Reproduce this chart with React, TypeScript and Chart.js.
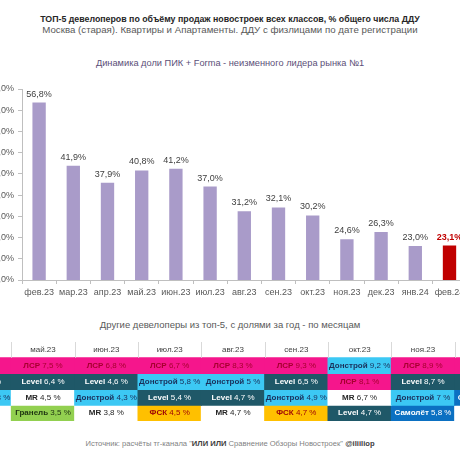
import React, { useEffect, useRef } from "react";
import { Chart, registerables } from "chart.js";

Chart.register(...registerables);

// ---------- Data: bar chart ----------
const months = ["фев.23", "мар.23", "апр.23", "май.23", "июн.23", "июл.23", "авг.23", "сен.23", "окт.23", "ноя.23", "дек.23", "янв.24", "фев.24"];
const pikShare = [56.8, 41.9, 37.9, 40.8, 41.2, 37.0, 31.2, 32.1, 30.2, 24.6, 26.3, 23.0, 23.1];
const yMin = 15;
const yMax = 60;
const yStep = 5;

// ---------- Data: table ----------
const tableMonths = ["апр.23", "май.23", "июн.23", "июл.23", "авг.23", "сен.23", "окт.23", "ноя.23", "дек.23"];
const row1Dev = ["ЛСР", "ЛСР", "ЛСР", "ЛСР", "ЛСР", "ЛСР", "Донстрой", "ЛСР", "ЛСР"];
const row1Val = ["7,9", "7,5", "6,8", "6,7", "8,3", "9,3", "9,2", "8,9", "8,4"];
const row2Dev = ["Level", "Level", "Level", "Донстрой", "Донстрой", "Level", "ЛСР", "Level", "Level"];
const row2Val = ["6,1", "6,4", "4,6", "5,8", "5", "6,5", "8,1", "8,7", "7,6"];
const row3Dev = ["Донстрой", "MR", "Донстрой", "Level", "Level", "Донстрой", "MR", "Донстрой", "Самолёт"];
const row3Val = ["4,8", "4,5", "4,3", "5,4", "4,7", "4,9", "6,7", "7", "6,2"];
const row4Dev = ["MR", "Гранель", "MR", "ФСК", "MR", "ФСК", "Level", "Самолёт", "MR"];
const row4Val = ["3,9", "3,5", "3,8", "4,5", "4,7", "4,7", "4,7", "5,8", "5,1"];

// ---------- Styles ----------
const FONT = "'Liberation Sans', Arial, sans-serif";
const BAR_COLOR = "#a99bc9";
const HIGHLIGHT = "#c00000";
const devStyle: Record<string, { bg: string; fg: string }> = {
  "ЛСР": { bg: "#f5168c", fg: "#a5002e" },
  "Level": { bg: "#1f5868", fg: "#ffffff" },
  "Донстрой": { bg: "#3cc8f4", fg: "#1a2f5a" },
  "MR": { bg: "#ffffff", fg: "#262626" },
  "Гранель": { bg: "#92d050", fg: "#1d3311" },
  "ФСК": { bg: "#ffc000", fg: "#9c0006" },
  "Самолёт": { bg: "#0b70c2", fg: "#ffffff" },
};

const fmt = (v: number) => v.toFixed(1).replace(".", ",") + "%";

function BarChart() {
  const ref = useRef<HTMLCanvasElement>(null);
  useEffect(() => {
    const valueLabels = {
      id: "valueLabels",
      afterDatasetsDraw(chart: any) {
        const ctx = chart.ctx;
        const meta = chart.getDatasetMeta(0);
        ctx.save();
        ctx.textAlign = "center";
        ctx.textBaseline = "bottom";
        meta.data.forEach((bar: any, i: number) => {
          const last = i === pikShare.length - 1;
          ctx.font = `${last ? "bold " : ""}9px ${FONT}`;
          ctx.fillStyle = last ? HIGHLIGHT : "#404040";
          ctx.fillText(fmt(pikShare[i]), bar.x, bar.y - 4);
        });
        ctx.restore();
      },
    };
    const chart = new Chart(ref.current!, {
      type: "bar",
      data: {
        labels: months,
        datasets: [
          {
            data: pikShare,
            backgroundColor: months.map((_, i) => (i === months.length - 1 ? HIGHLIGHT : BAR_COLOR)),
            barPercentage: 0.39,
            categoryPercentage: 1,
          },
        ],
      },
      options: {
        responsive: false,
        maintainAspectRatio: false,
        animation: false,
        layout: { padding: { top: 14, right: 3.4, left: 0, bottom: 0 } },
        plugins: { legend: { display: false }, tooltip: { enabled: false }, title: { display: false } },
        scales: {
          y: {
            min: yMin,
            max: yMax,
            ticks: {
              stepSize: yStep,
              callback: (v: any) => fmt(Number(v)),
              font: { size: 9, family: FONT },
              color: "#595959",
              padding: 4,
            },
            grid: { drawOnChartArea: false, drawTicks: true, tickLength: 4, color: "#bfbfbf" },
            border: { color: "#bfbfbf" },
            afterFit: (s: any) => {
              s.width = 42;
            },
          },
          x: {
            ticks: {
              font: { size: 9, family: FONT },
              color: "#595959",
              padding: 3,
              maxRotation: 0,
              autoSkip: false,
            },
            grid: { drawOnChartArea: false, drawTicks: true, tickLength: 4, offset: true, color: "#bfbfbf" },
            border: { color: "#bfbfbf" },
            afterFit: (s: any) => {
              s.height = 20;
            },
          },
        },
      },
      plugins: [valueLabels],
    } as any);
    return () => chart.destroy();
  }, []);
  return (
    <canvas
      ref={ref}
      width={490}
      height={225}
      style={{ position: "absolute", left: -20, top: 75, width: 490, height: 225 }}
    />
  );
}

function TableChart() {
  const ref = useRef<HTMLCanvasElement>(null);
  useEffect(() => {
    const rows = [
      { dev: row1Dev, val: row1Val },
      { dev: row2Dev, val: row2Val },
      { dev: row3Dev, val: row3Val },
      { dev: row4Dev, val: row4Val },
    ];
    const cellText = {
      id: "cellText",
      afterDatasetsDraw(chart: any) {
        const ctx = chart.ctx;
        ctx.save();
        ctx.textBaseline = "middle";
        // header
        const hMeta = chart.getDatasetMeta(0);
        ctx.strokeStyle = "#d9d9d9";
        ctx.lineWidth = 1;
        hMeta.data.forEach((cell: any, i: number) => {
          const cy = (cell.y + cell.base) / 2;
          ctx.font = `8px ${FONT}`;
          ctx.fillStyle = "#404040";
          ctx.textAlign = "center";
          ctx.fillText(tableMonths[i], cell.x, cy);
          if (i < hMeta.data.length - 1) {
            const nx = Math.round((cell.x + hMeta.data[i + 1].x) / 2) + 0.5;
            ctx.beginPath();
            ctx.moveTo(nx, Math.min(cell.y, cell.base));
            ctx.lineTo(nx, Math.max(cell.y, cell.base));
            ctx.stroke();
          }
        });
        // body
        ctx.textAlign = "left";
        rows.forEach((r, ri) => {
          const meta = chart.getDatasetMeta(ri + 1);
          meta.data.forEach((cell: any, i: number) => {
            const cy = (cell.y + cell.base) / 2;
            const name = r.dev[i];
            const val = " " + r.val[i] + " %";
            ctx.font = `bold 8px ${FONT}`;
            const w1 = ctx.measureText(name).width;
            ctx.font = `8px ${FONT}`;
            const w2 = ctx.measureText(val).width;
            const x0 = cell.x - (w1 + w2) / 2;
            ctx.fillStyle = devStyle[name].fg;
            ctx.font = `bold 8px ${FONT}`;
            ctx.fillText(name, x0, cy);
            ctx.font = `8px ${FONT}`;
            ctx.fillText(val, x0 + w1, cy);
          });
        });
        ctx.restore();
      },
    };
    const chart = new Chart(ref.current!, {
      type: "bar",
      data: {
        labels: tableMonths,
        datasets: [
          { data: tableMonths.map(() => 1), backgroundColor: "rgba(255,255,255,0)" },
          ...rows.map((r) => ({
            data: r.dev.map(() => 1),
            backgroundColor: r.dev.map((d) => devStyle[d].bg),
          })),
        ],
      },
      options: {
        responsive: false,
        maintainAspectRatio: false,
        animation: false,
        layout: { padding: 0 },
        datasets: { bar: { barPercentage: 1, categoryPercentage: 1, borderWidth: 0, inflateAmount: 0.5 } },
        plugins: { legend: { display: false }, tooltip: { enabled: false } },
        scales: {
          x: { stacked: true, display: false },
          y: { stacked: true, display: false, reverse: true, min: 0, max: 5 },
        },
      },
      plugins: [cellText],
    } as any);
    return () => chart.destroy();
  }, []);
  return (
    <canvas
      ref={ref}
      width={570}
      height={79}
      style={{ position: "absolute", left: -52, top: 342, width: 570, height: 79 }}
    />
  );
}

function Text(props: { top: number; size: number; color: string; bold?: boolean; children: any }) {
  return (
    <div
      style={{
        position: "absolute",
        left: 0,
        width: 460,
        top: props.top,
        textAlign: "center",
        fontFamily: FONT,
        fontSize: props.size,
        lineHeight: "12px",
        color: props.color,
        fontWeight: props.bold ? "bold" : "normal",
        whiteSpace: "nowrap",
      }}
    >
      {props.children}
    </div>
  );
}

export default function App() {
  return (
    <div
      style={{
        position: "fixed",
        left: 0,
        top: 0,
        width: 460,
        height: 460,
        overflow: "hidden",
        background: "#ffffff",
      }}
    >
      <Text top={12.5} size={8.8} color="#262626" bold>
        ТОП-5 девелоперов по объёму продаж новостроек всех классов, % общего числа ДДУ
      </Text>
      <Text top={24} size={9.7} color="#595959">
        Москва (старая). Квартиры и Апартаменты. ДДУ с физлицами по дате регистрации
      </Text>
      <Text top={56.5} size={9.25} color="#5b4f78">
        Динамика доли ПИК + Forma - неизменного лидера рынка №1
      </Text>
      <BarChart />
      <Text top={319} size={9.5} color="#595959">
        Другие девелоперы из топ-5, с долями за год - по месяцам
      </Text>
      <TableChart />
      <Text top={437.5} size={7.6} color="#7f7f7f">
        Источник: расчёты тг-канала "<b style={{ color: "#404040" }}>ИЛИ ИЛИ</b> Сравнение Обзоры Новостроек"{"  "}
        <b style={{ color: "#404040" }}>@iliiliop</b>
      </Text>
    </div>
  );
}
